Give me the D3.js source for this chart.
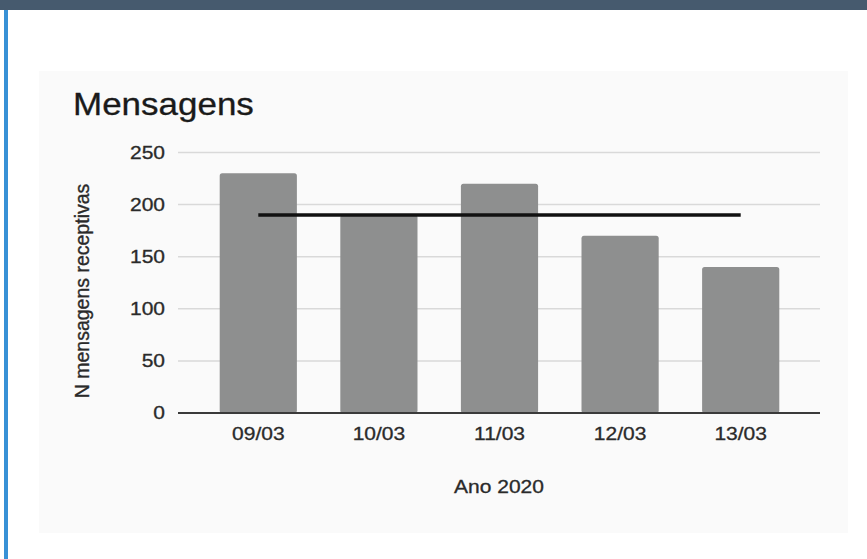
<!DOCTYPE html>
<html>
<head>
<meta charset="utf-8">
<script src="https://cdn.jsdelivr.net/npm/d3@7"></script>
<style>
  html, body { margin: 0; padding: 0; background: #ffffff; }
  svg { display: block; font-family: "Liberation Sans", Arial, sans-serif; }
  svg text { stroke: currentColor; stroke-width: 0.35px; }
</style>
</head>
<body>
<svg id="chart" width="867" height="559"></svg>
<script>
// Messages received per day
const categories = ["09/03", "10/03", "11/03", "12/03", "13/03"];
const values = [230, 190, 220, 170, 140];
const yTicks = [0, 50, 100, 150, 200, 250];
const chartTitle = "Mensagens";
const xTitle = "Ano 2020";
const yTitle = "N mensagens receptivas";

const svg = d3.select("#chart");

// page frame: header strip and left accent
svg.append("rect").attr("x", 0).attr("y", 0).attr("width", 867).attr("height", 10).attr("fill", "#465a6e");
svg.append("rect").attr("x", 4).attr("y", 10).attr("width", 4).attr("height", 549).attr("fill", "#3891d6");

// chart card
svg.append("rect").attr("x", 39).attr("y", 71).attr("width", 809).attr("height", 462).attr("fill", "#fafafa");

const plotLeft = 178, plotRight = 820;
const x = d3.scaleBand().domain(categories).range([198, 801]).paddingInner(0.36).paddingOuter(0.18);
const y = d3.scaleLinear().domain([0, 250]).range([413, 152.5]);

const squash = 0.88;
const textColor = "#2a2a2a";

// gridlines
svg.append("g").selectAll("line")
  .data(yTicks.filter(d => d !== 0))
  .join("line")
  .attr("x1", plotLeft).attr("x2", plotRight)
  .attr("y1", d => y(d)).attr("y2", d => y(d))
  .attr("stroke", "#d9d9d9").attr("stroke-width", 1.5);

// bars
svg.append("g").selectAll("rect")
  .data(categories.map((c, i) => ({ c, v: values[i] })))
  .join("rect")
  .attr("x", d => x(d.c))
  .attr("y", d => y(d.v))
  .attr("width", x.bandwidth())
  .attr("height", d => y(0) - y(d.v))
  .attr("rx", 2.5)
  .attr("fill", "#8e8f8f");

// baseline
svg.append("line")
  .attr("x1", plotLeft).attr("x2", plotRight)
  .attr("y1", y(0)).attr("y2", y(0))
  .attr("stroke", "#3a3a3a").attr("stroke-width", 2);

// average line across the days
const avg = d3.mean(values);
svg.append("line")
  .attr("x1", x(categories[0]) + x.bandwidth() / 2)
  .attr("x2", x(categories[categories.length - 1]) + x.bandwidth() / 2)
  .attr("y1", y(avg)).attr("y2", y(avg))
  .attr("stroke", "#111111").attr("stroke-width", 3.5);

// y axis labels
const yAxis = svg.append("g")
  .attr("transform", `translate(${plotLeft},0)`)
  .call(d3.axisLeft(y).tickValues(yTicks).tickSize(0).tickPadding(13));
yAxis.select(".domain").remove();
yAxis.selectAll("text")
  .attr("font-size", 21)
  .attr("font-family", "Liberation Sans, Arial, sans-serif")
  .attr("fill", textColor)
  .style("color", textColor)
  .attr("transform", `scale(1,${squash})`);

// x axis labels
const xAxis = svg.append("g")
  .attr("transform", `translate(0,${y(0)})`)
  .call(d3.axisBottom(x).tickSize(0));
xAxis.select(".domain").remove();
xAxis.selectAll("text")
  .attr("font-size", 21)
  .attr("font-family", "Liberation Sans, Arial, sans-serif")
  .attr("fill", textColor)
  .style("color", textColor)
  .attr("y", 27 / squash)
  .attr("dy", 0)
  .attr("transform", `scale(1,${squash})`);

// titles
svg.append("text")
  .attr("transform", `translate(73,115) scale(1,0.9)`)
  .attr("font-size", 35)
  .attr("fill", "#1a1a1a")
  .style("color", "#1a1a1a")
  .text(chartTitle);

svg.append("text")
  .attr("transform", `translate(${(plotLeft + plotRight) / 2},493) scale(1,${squash})`)
  .attr("text-anchor", "middle")
  .attr("font-size", 21)
  .attr("fill", textColor)
  .style("color", textColor)
  .text(xTitle);

svg.append("text")
  .attr("transform", `translate(89,291) rotate(-90)`)
  .attr("text-anchor", "middle")
  .attr("font-size", 19.5)
  .attr("fill", textColor)
  .style("color", textColor)
  .text(yTitle);
</script>
</body>
</html>
